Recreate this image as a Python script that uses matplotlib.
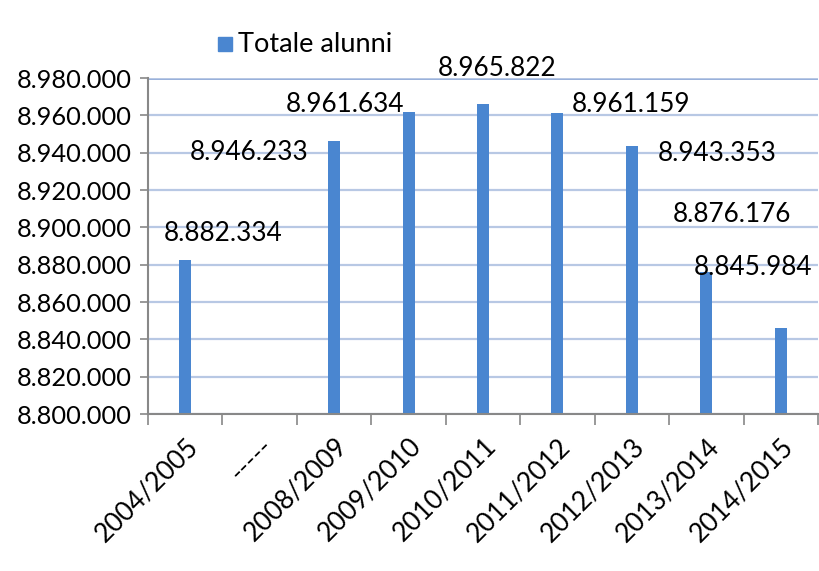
import numpy as np
import matplotlib
matplotlib.use("Agg")
import matplotlib.pyplot as plt
from matplotlib.patches import Rectangle
from matplotlib.ticker import FuncFormatter, MultipleLocator

# data
anni = ["2004/2005", "-----", "2008/2009", "2009/2010", "2010/2011",
        "2011/2012", "2012/2013", "2013/2014", "2014/2015"]
alunni = [8882334, np.nan, 8946233, 8961634, 8965822,
          8961159, 8943353, 8876176, 8845984]
serie = "Totale alunni"

# label offsets from bar top (pixels, x right / y up) as in the original
label_dx = [38, 0, -85, -64, 14, 74, 85, 26, -28]
label_dy = [27, 0, -11, 8, 36, 9, -7, 57, 61]

BAR = "#4A86D0"
GRID = "#B8C8E4"

plt.rcParams['font.family'] = ['Lato', 'DejaVu Sans']

W, H = 820, 571
fig = plt.figure(figsize=(W / 100, H / 100), dpi=100)
ax = fig.add_axes([148 / W, 1 - 414 / H, 670 / W, 336 / H])

x = np.arange(len(anni))
ax.bar(x, alunni, width=0.16, color=BAR, zorder=3)

ax.set_xlim(-0.5, len(anni) - 0.5)
ax.set_ylim(8800000, 8980000)
ax.yaxis.set_major_locator(MultipleLocator(20000))
ax.yaxis.set_major_formatter(FuncFormatter(lambda v, p: f"{v:,.0f}".replace(",", ".")))

# gridlines
ax.grid(axis="y", color=GRID, linewidth=1.6, zorder=0)
ax.axhline(8980000, color="#8AA6D6", linewidth=2, zorder=1)

for s in ["top", "right"]:
    ax.spines[s].set_visible(False)
for s in ["left", "bottom"]:
    ax.spines[s].set_color("#888888")
    ax.spines[s].set_linewidth(1.5)
    ax.spines[s].set_zorder(4)

ax.tick_params(axis="y", length=6, width=1.2, color="#888888", labelsize=18.3, pad=6)
ax.set_xticks(x)
ax.set_xticklabels(anni, rotation=45, ha="right", rotation_mode="anchor", fontsize=19)
ax.tick_params(axis="x", which="major", length=0, pad=14)
ax.set_xticks(np.arange(-0.5, len(anni)), minor=True)
ax.tick_params(axis="x", which="minor", length=8, width=1.2, color="#888888")

# value labels
for i, v in enumerate(alunni):
    if np.isnan(v):
        continue
    ax.annotate(f"{v:,.0f}".replace(",", "."), xy=(x[i], v),
                xytext=(label_dx[i] * 0.72, label_dy[i] * 0.72), textcoords="offset points",
                ha="center", va="center", fontsize=18.8, zorder=5, annotation_clip=False)

# legend drawn by hand: square key + text
fig.patches.append(Rectangle((218 / W, 1 - 51 / H), 14 / W, 14 / H,
                             transform=fig.transFigure, color=BAR))
fig.text(238 / W, 1 - 44 / H, serie, fontsize=19.5, va="center", ha="left")

fig.savefig("out.png", dpi=100)
